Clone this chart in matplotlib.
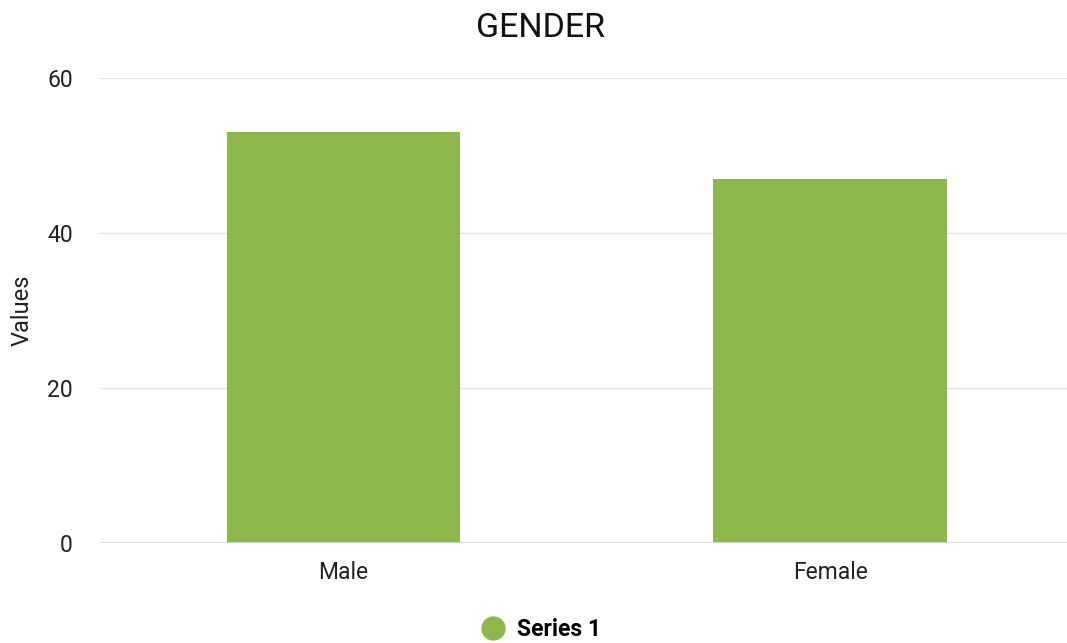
import matplotlib.pyplot as plt
from matplotlib.lines import Line2D

plt.rcParams['font.family'] = ['Roboto', 'DejaVu Sans']

# chart data
categories = ['Male', 'Female']
values = [53, 47]
series_name = 'Series 1'
y_ticks = [0, 20, 40, 60]

bar_color = '#8db84a'

fig = plt.figure(figsize=(10.67, 6.43), dpi=100)
ax = fig.add_axes([0.0937, 0.1555, 0.9063, 0.7232])

x = list(range(len(categories)))
ax.bar(x, values, width=0.48, color=bar_color, zorder=3)

ax.set_xlim(-0.5, 1.486)
ax.set_ylim(0, 60)
ax.set_yticks(y_ticks)
ax.set_xticks(x)
ax.set_xticklabels(categories)
ax.tick_params(axis='both', length=0, labelsize=16.5, colors='#222222')
ax.tick_params(axis='y', pad=19.5)
ax.tick_params(axis='x', pad=13)

# gridlines
ax.grid(axis='y', color='#e3e3e3', linewidth=1, zorder=0)
ax.axhline(0, color='#d5d8de', linewidth=1.3, zorder=4)
for s in ax.spines.values():
    s.set_visible(False)

ax.set_ylabel('Values', fontsize=17, color='#222222')
ax.yaxis.set_label_coords(-0.069, 0.5)
fig.text(0.507, 1 - 37 / 643, 'GENDER', ha='center', va='baseline', fontsize=24.5, color='#111111')

# legend
handle = Line2D([], [], marker='o', linestyle='', markersize=16.5,
                markerfacecolor=bar_color, markeredgecolor=bar_color)
fig.legend([handle], [series_name], loc='center', bbox_to_anchor=(0.502, 0.021),
           frameon=False, prop={'weight': 'bold', 'size': 16.5}, handletextpad=0.05,
           borderpad=0)

fig.savefig('out.png', dpi=100)
